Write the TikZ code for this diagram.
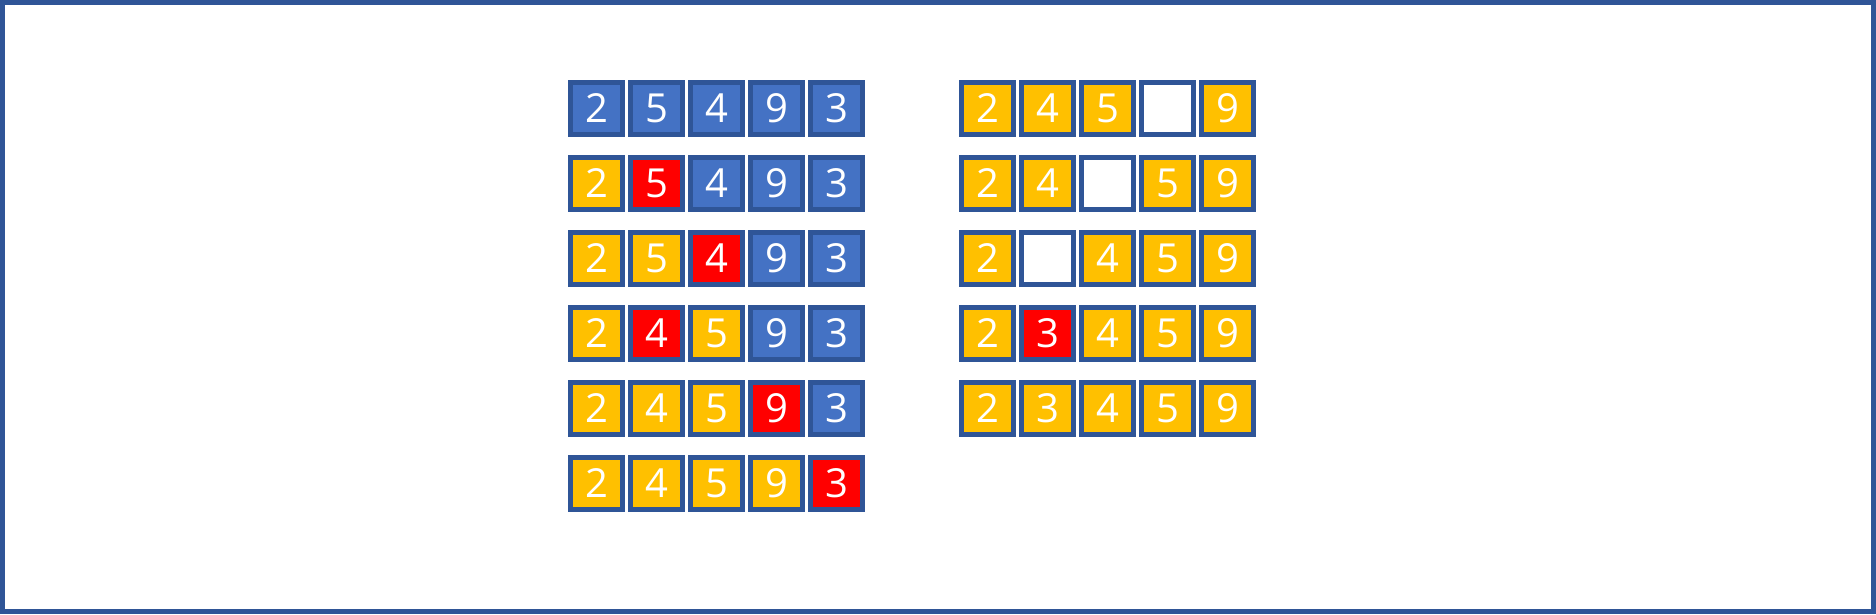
\documentclass[tikz,border=0pt]{standalone}
\usepackage{fontspec}
\setmainfont{Open Sans}[Numbers=Lining]
\definecolor{frameblue}{HTML}{2F5597}
\definecolor{cellblue}{HTML}{4472C4}
\definecolor{cellyel}{HTML}{FFC000}
\definecolor{cellred}{HTML}{FF0000}
\tikzset{
  cell/.style={draw=frameblue, line width=5pt, minimum size=52pt, inner sep=0pt,
    text=white, font=\fontsize{40}{40}\selectfont},
  B/.style={cell, fill=cellblue},
  Y/.style={cell, fill=cellyel},
  R/.style={cell, fill=cellred},
  W/.style={cell, fill=white},
}
\begin{document}
\begin{tikzpicture}[x=1pt,y=-1pt]
\useasboundingbox (0,0) rectangle (1876,614);
\draw[frameblue, line width=5pt] (2.5,2.5) rectangle (1873.5,611.5);
% left group
\def\lx{596.5}
\def\ty{108.5}
\foreach \row/\cells in {0/{B/2,B/5,B/4,B/9,B/3},
                         1/{Y/2,R/5,B/4,B/9,B/3},
                         2/{Y/2,Y/5,R/4,B/9,B/3},
                         3/{Y/2,R/4,Y/5,B/9,B/3},
                         4/{Y/2,Y/4,Y/5,R/9,B/3},
                         5/{Y/2,Y/4,Y/5,Y/9,R/3}}{
  \foreach \st/\val [count=\i from 0] in \cells {
    \node[\st] (L-\row-\i) at ({\lx+60*\i},{\ty+75*\row}) {\val};
  }
}
% right group
\def\rx{987.5}
\foreach \row/\cells in {0/{Y/2,Y/4,Y/5,W/{},Y/9},
                         1/{Y/2,Y/4,W/{},Y/5,Y/9},
                         2/{Y/2,W/{},Y/4,Y/5,Y/9},
                         3/{Y/2,R/3,Y/4,Y/5,Y/9},
                         4/{Y/2,Y/3,Y/4,Y/5,Y/9}}{
  \foreach \st/\val [count=\i from 0] in \cells {
    \node[\st] (R-\row-\i) at ({\rx+60*\i},{\ty+75*\row}) {\val};
  }
}
\end{tikzpicture}
\end{document}
